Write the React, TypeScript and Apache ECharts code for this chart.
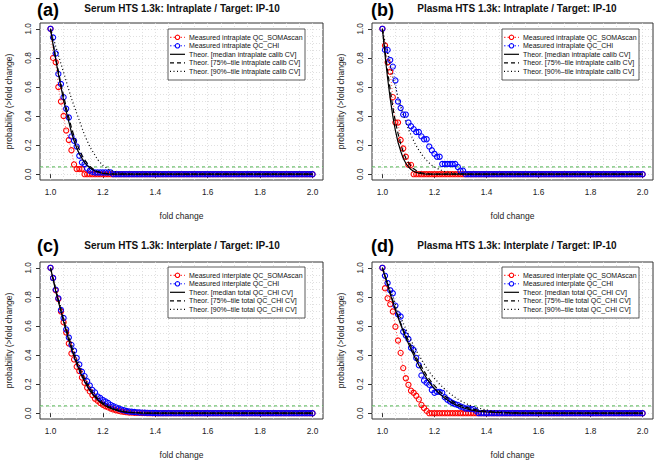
import React, { useEffect, useRef } from "react";
import * as echarts from "echarts";

// ---------- data ----------
const FOLD_CHANGE = Array.from({ length: 101 }, (_, i) => Math.round(100 + i) / 100);
const X_TICKS = [1.0, 1.2, 1.4, 1.6, 1.8, 2.0];
const Y_TICKS = [0, 0.2, 0.4, 0.6, 0.8, 1.0];
const GRID_X = [1.0, 1.05, 1.1, 1.15, 1.2, 1.25, 1.3, 1.35, 1.4, 1.45, 1.5, 1.55, 1.6, 1.65, 1.7, 1.75, 1.8, 1.85, 1.9, 1.95, 2.0];
const GRID_Y = [0, 0.05, 0.1, 0.15, 0.2, 0.25, 0.3, 0.35, 0.4, 0.45, 0.5, 0.55, 0.6, 0.65, 0.7, 0.75, 0.8, 0.85, 0.9, 0.95, 1.0];
const THRESHOLD = 0.05;
const X_RANGE = [0.96, 2.04];

const TITLES = [
  "Serum HTS 1.3k: Intraplate / Target: IP-10",
  "Plasma HTS 1.3k: Intraplate / Target: IP-10",
  "Serum HTS 1.3k: Interplate / Target: IP-10",
  "Plasma HTS 1.3k: Interplate / Target: IP-10",
];
const TAGS = ["(a)", "(b)", "(c)", "(d)"];
const LEGEND_INTRA = [
  "Measured intraplate QC_SOMAscan",
  "Measured intraplate QC_CHI",
  "Theor. [median intraplate calib CV]",
  "Theor. [75%\u2013tile intraplate calib CV]",
  "Theor. [90%\u2013tile intraplate calib CV]",
];
const LEGEND_INTER = [
  "Measured interplate QC_SOMAscan",
  "Measured interplate QC_CHI",
  "Theor. [median total QC_CHI CV]",
  "Theor. [75%\u2013tile total QC_CHI CV]",
  "Theor. [90%\u2013tile total QC_CHI CV]",
];

// measured values (fold change 1.00, 1.01, ...; remaining values are 0)
const A_SOMA = [1.0, 0.8, 0.77, 0.6, 0.5, 0.4, 0.3, 0.235, 0.165, 0.067, 0.035, 0.035, 0.035];
const A_CHI = [1.0, 0.94, 0.83, 0.69, 0.62, 0.53, 0.45, 0.39, 0.26, 0.23, 0.19, 0.127, 0.08, 0.07, 0.04, 0.023, 0.016, 0.012, 0.012, 0.012, 0.012, 0.012, 0.012, 0.012];
const B_SOMA = [1.0, 0.885, 0.77, 0.705, 0.53, 0.355, 0.355, 0.235, 0.177, 0.12, 0.064, 0.064];
const B_CHI = [1.0, 0.855, 0.855, 0.785, 0.74, 0.645, 0.5, 0.455, 0.41, 0.41, 0.355, 0.33, 0.31, 0.29, 0.29, 0.26, 0.24, 0.24, 0.19, 0.165, 0.14, 0.12, 0.12, 0.07, 0.07, 0.07, 0.07, 0.07, 0.07, 0.05, 0.024, 0.024];
const C_SOMA = [1.0, 0.93, 0.845, 0.785, 0.7, 0.625, 0.555, 0.48, 0.41, 0.37, 0.32, 0.29, 0.245, 0.21, 0.175, 0.15, 0.125, 0.1, 0.085, 0.07, 0.058, 0.048, 0.04, 0.032, 0.026, 0.02, 0.016, 0.012, 0.009, 0.007, 0.005, 0.004, 0.003, 0.0025, 0.002, 0.0015, 0.001];
const C_CHI = [1.0, 0.93, 0.85, 0.79, 0.71, 0.655, 0.575, 0.52, 0.47, 0.43, 0.38, 0.335, 0.285, 0.255, 0.22, 0.19, 0.16, 0.143, 0.115, 0.105, 0.09, 0.08, 0.07, 0.057, 0.048, 0.04, 0.032, 0.025, 0.02, 0.015, 0.012, 0.01, 0.008, 0.006, 0.005, 0.004, 0.003, 0.0025, 0.002, 0.0015, 0.001];
const D_SOMA = [1.0, 0.86, 0.79, 0.75, 0.7, 0.595, 0.5, 0.415, 0.31, 0.24, 0.195, 0.155, 0.14, 0.12, 0.095, 0.057, 0.035, 0.016];
const D_CHI = [1.0, 0.945, 0.895, 0.845, 0.825, 0.74, 0.68, 0.665, 0.56, 0.535, 0.51, 0.45, 0.435, 0.38, 0.33, 0.26, 0.225, 0.21, 0.195, 0.16, 0.14, 0.147, 0.147, 0.14, 0.11, 0.092, 0.08, 0.07, 0.062, 0.057, 0.046, 0.04, 0.032, 0.032, 0.028, 0.028, 0.016];

// theoretical curves
const THEORY_X = [1.0, 1.01, 1.02, 1.03, 1.04, 1.05, 1.06, 1.07, 1.08, 1.09, 1.1, 1.11, 1.12, 1.13, 1.14, 1.15, 1.16, 1.17, 1.18, 1.19, 1.2, 1.22, 1.24, 1.26, 1.28, 1.3, 1.32, 1.34, 1.36, 1.38, 1.4, 1.45, 1.5, 1.55, 1.6, 2.0];
const A_MEDIAN = [1, 0.89, 0.79, 0.69, 0.6, 0.51, 0.43, 0.36, 0.29, 0.23, 0.18, 0.14, 0.11, 0.08, 0.06, 0.045, 0.032, 0.022, 0.015, 0.01, 0.006, 0.002, 0.001, 0, 0, 0, 0, 0, 0, 0, 0, 0, 0, 0, 0, 0];
const A_P75 = [1, 0.9, 0.8, 0.71, 0.62, 0.54, 0.46, 0.39, 0.32, 0.26, 0.21, 0.17, 0.13, 0.1, 0.075, 0.055, 0.04, 0.028, 0.019, 0.013, 0.008, 0.003, 0.0015, 0.0005, 0, 0, 0, 0, 0, 0, 0, 0, 0, 0, 0, 0];
const A_P90 = [1, 0.94, 0.88, 0.82, 0.76, 0.7, 0.64, 0.58, 0.52, 0.47, 0.42, 0.37, 0.32, 0.27, 0.23, 0.19, 0.16, 0.13, 0.1, 0.08, 0.06, 0.035, 0.019, 0.01, 0.005, 0.002, 0.001, 0, 0, 0, 0, 0, 0, 0, 0, 0];
const B_MEDIAN = [1, 0.82, 0.66, 0.52, 0.4, 0.3, 0.22, 0.16, 0.11, 0.075, 0.05, 0.032, 0.02, 0.012, 0.007, 0.004, 0.002, 0.001, 0.0005, 0, 0, 0, 0, 0, 0, 0, 0, 0, 0, 0, 0, 0, 0, 0, 0, 0];
const B_P75 = [1, 0.85, 0.71, 0.58, 0.46, 0.36, 0.28, 0.21, 0.155, 0.11, 0.08, 0.055, 0.037, 0.025, 0.016, 0.01, 0.006, 0.004, 0.002, 0.001, 0.0005, 0, 0, 0, 0, 0, 0, 0, 0, 0, 0, 0, 0, 0, 0, 0];
const B_P90 = [1, 0.91, 0.83, 0.75, 0.67, 0.6, 0.53, 0.47, 0.41, 0.36, 0.31, 0.27, 0.23, 0.195, 0.165, 0.14, 0.115, 0.095, 0.077, 0.062, 0.05, 0.031, 0.018, 0.011, 0.006, 0.003, 0.0015, 0.0005, 0, 0, 0, 0, 0, 0, 0, 0];
const C_MEDIAN = [1, 0.92, 0.84, 0.77, 0.7, 0.63, 0.565, 0.5, 0.445, 0.39, 0.34, 0.295, 0.255, 0.22, 0.185, 0.157, 0.132, 0.11, 0.091, 0.075, 0.061, 0.04, 0.026, 0.016, 0.009, 0.005, 0.003, 0.0015, 0.001, 0.0005, 0, 0, 0, 0, 0, 0];
const C_P75 = [1, 0.925, 0.85, 0.78, 0.71, 0.645, 0.58, 0.52, 0.46, 0.405, 0.355, 0.31, 0.27, 0.233, 0.2, 0.17, 0.143, 0.12, 0.1, 0.083, 0.068, 0.045, 0.03, 0.019, 0.011, 0.006, 0.0035, 0.002, 0.001, 0.0005, 0, 0, 0, 0, 0, 0];
const C_P90 = [1, 0.93, 0.86, 0.79, 0.725, 0.66, 0.595, 0.535, 0.48, 0.425, 0.375, 0.33, 0.29, 0.25, 0.215, 0.185, 0.157, 0.133, 0.112, 0.094, 0.078, 0.053, 0.035, 0.023, 0.014, 0.008, 0.005, 0.003, 0.0015, 0.001, 0.0005, 0, 0, 0, 0, 0];
const D_MEDIAN = [1, 0.94, 0.88, 0.82, 0.765, 0.71, 0.66, 0.61, 0.565, 0.52, 0.48, 0.44, 0.4, 0.365, 0.33, 0.3, 0.27, 0.24, 0.215, 0.19, 0.17, 0.133, 0.103, 0.078, 0.059, 0.044, 0.032, 0.023, 0.016, 0.011, 0.008, 0.003, 0.001, 0, 0, 0];
const D_P75 = [1, 0.945, 0.89, 0.83, 0.775, 0.72, 0.67, 0.62, 0.575, 0.535, 0.5, 0.46, 0.42, 0.385, 0.35, 0.32, 0.29, 0.26, 0.235, 0.21, 0.19, 0.15, 0.118, 0.092, 0.071, 0.055, 0.042, 0.032, 0.024, 0.017, 0.012, 0.005, 0.002, 0.001, 0, 0];
const D_P90 = [1, 0.95, 0.9, 0.85, 0.8, 0.75, 0.7, 0.66, 0.62, 0.58, 0.54, 0.5, 0.465, 0.43, 0.4, 0.37, 0.34, 0.31, 0.285, 0.26, 0.24, 0.2, 0.165, 0.135, 0.108, 0.085, 0.067, 0.052, 0.04, 0.03, 0.022, 0.01, 0.004, 0.001, 0, 0];

const PANELS = [
  { soma: A_SOMA, chi: A_CHI, med: A_MEDIAN, p75: A_P75, p90: A_P90, legend: LEGEND_INTRA },
  { soma: B_SOMA, chi: B_CHI, med: B_MEDIAN, p75: B_P75, p90: B_P90, legend: LEGEND_INTRA },
  { soma: C_SOMA, chi: C_CHI, med: C_MEDIAN, p75: C_P75, p90: C_P90, legend: LEGEND_INTER },
  { soma: D_SOMA, chi: D_CHI, med: D_MEDIAN, p75: D_P75, p90: D_P90, legend: LEGEND_INTER },
];

// ---------- layout ----------
const LAYOUT = [
  { left: 40, top: 23, width: 283, titleX: 182, titleY: 8, tagX: 37, tagY: 9.5, legX: 168, legY: 29 },
  { left: 372, top: 23, width: 281, titleX: 517, titleY: 8, tagX: 371, tagY: 9.5, legX: 502, legY: 29 },
  { left: 40, top: 262, width: 283, titleX: 182, titleY: 245, tagX: 37, tagY: 246, legX: 168, legY: 267 },
  { left: 372, top: 262, width: 281, titleX: 517, titleY: 245, tagX: 371, tagY: 246, legX: 502, legY: 267 },
];
const PLOT_H = 157;
const FONT = "'Liberation Sans', Arial, Helvetica, sans-serif";
const RED = "#ff0000";
const BLUE = "#0000ff";
const GREEN = "#4fb34f";
const AX = "#333333";

function padZeros(vals: number[]) {
  return FOLD_CHANGE.map((x, i) => [x, i < vals.length ? vals[i] : 0]);
}

function buildOption() {
  const grid: any[] = [];
  const xAxis: any[] = [];
  const yAxis: any[] = [];
  const series: any[] = [];
  const graphic: any[] = [];

  LAYOUT.forEach((l) => {
    grid.push({
      left: l.left, top: l.top, width: l.width, height: PLOT_H,
      show: true, borderColor: AX, borderWidth: 1, backgroundColor: "transparent",
      containLabel: false, outerBoundsMode: "none",
    });
  });
  // main axes 0..3
  LAYOUT.forEach((l, i) => {
    xAxis.push({
      type: "value", gridIndex: i, min: X_RANGE[0], max: X_RANGE[1], position: "bottom",
      axisLine: { show: false },
      axisTick: { show: true, length: 4, lineStyle: { color: AX }, customValues: X_TICKS },
      axisLabel: { customValues: X_TICKS, formatter: (v: number) => v.toFixed(1), fontSize: 8.3, color: "#222", margin: 8, fontFamily: FONT },
      splitLine: { show: false },
      name: "fold change", nameLocation: "middle", nameGap: 31,
      nameTextStyle: { fontSize: 8.5, color: "#222", fontFamily: FONT },
    });
    yAxis.push({
      type: "value", gridIndex: i, min: -0.04, max: 1.04, position: "left",
      axisLine: { show: false },
      axisTick: { show: true, length: 4, lineStyle: { color: AX }, customValues: Y_TICKS },
      axisLabel: { customValues: Y_TICKS, formatter: (v: number) => v.toFixed(1), fontSize: 8.3, color: "#222", margin: 8, rotate: 90, fontFamily: FONT },
      splitLine: { show: false },
      name: "probability (>fold change)", nameLocation: "middle", nameGap: 27, nameRotate: 90,
      nameTextStyle: { fontSize: 8.5, color: "#222", fontFamily: FONT },
    });
  });
  // grid-line axes 4..7
  LAYOUT.forEach((l, i) => {
    xAxis.push({
      type: "value", gridIndex: i, min: X_RANGE[0], max: X_RANGE[1], position: "top",
      axisLine: { show: false },
      axisTick: { show: false, customValues: GRID_X },
      axisLabel: { show: false, customValues: GRID_X },
      splitLine: { show: true, lineStyle: { color: "#d8d8d8", type: [1, 2], width: 0.8 } },
    });
    yAxis.push({
      type: "value", gridIndex: i, min: -0.04, max: 1.04, position: "right",
      axisLine: { show: false },
      axisTick: { show: false, customValues: GRID_Y },
      axisLabel: { show: false, customValues: GRID_Y },
      splitLine: { show: true, lineStyle: { color: "#d8d8d8", type: [1, 2], width: 0.8 } },
    });
  });

  PANELS.forEach((p, i) => {
    const base = { type: "line", xAxisIndex: i, yAxisIndex: i, emphasis: { disabled: true }, silent: true, animation: false };
    // threshold line
    series.push({
      ...base, name: "threshold" + i, z: 3,
      data: [[X_RANGE[0], THRESHOLD], [X_RANGE[1], THRESHOLD]],
      symbol: "none", showSymbol: false,
      lineStyle: { color: GREEN, width: 1, type: [3, 3] },
    });
    series.push({
      ...base, name: p.legend[0] + i, data: padZeros(p.soma), z: 4,
      symbol: "circle", symbolSize: 5.2, showSymbol: true, showAllSymbol: true,
      itemStyle: { color: "transparent", borderColor: RED, borderWidth: 1.1 },
      lineStyle: { color: RED, width: 0.8, type: [1, 2], opacity: 0.8 },
    });
    series.push({
      ...base, name: p.legend[1] + i, data: padZeros(p.chi), z: 5,
      symbol: "circle", symbolSize: 5.2, showSymbol: true, showAllSymbol: true,
      itemStyle: { color: "transparent", borderColor: BLUE, borderWidth: 1.1 },
      lineStyle: { color: BLUE, width: 0.8, type: [1, 2], opacity: 0.8 },
    });
    const theo = [
      { vals: p.med, type: "solid" as any },
      { vals: p.p75, type: [5, 3] },
      { vals: p.p90, type: [1, 2.5] },
    ];
    theo.forEach((t, k) => {
      series.push({
        ...base, name: p.legend[2 + k] + i, z: 6,
        data: THEORY_X.map((x, j) => [x, t.vals[j]]),
        symbol: "none", showSymbol: false,
        lineStyle: { color: "#000", width: 1.2, type: t.type },
      });
    });
  });

  LAYOUT.forEach((l, i) => {
    graphic.push({
      type: "text", x: l.titleX, y: l.titleY, z: 100,
      style: { text: TITLES[i], font: `bold 10px ${FONT}`, fill: "#111", align: "center", verticalAlign: "middle" },
    });
    graphic.push({
      type: "text", x: l.tagX, y: l.tagY, z: 100,
      style: { text: TAGS[i], font: `bold 18px ${FONT}`, fill: "#000", align: "left", verticalAlign: "middle" },
    });
    // legend
    const lx = l.legX, ly = l.legY;
    graphic.push({
      type: "rect", z: 100, shape: { x: lx, y: ly, width: 137, height: 51 },
      style: { fill: "#fff", stroke: AX, lineWidth: 0.8 },
    });
    const legendStyles = [
      { color: RED, dash: [1.5, 2], circle: true, w: 0.9 },
      { color: BLUE, dash: [1.5, 2], circle: true, w: 0.9 },
      { color: "#000", dash: null, circle: false, w: 1.2 },
      { color: "#000", dash: [4, 3], circle: false, w: 1.2 },
      { color: "#000", dash: [1, 2.5], circle: false, w: 1.2 },
    ];
    PANELS[i].legend.forEach((txt, k) => {
      const cy = ly + 8.3 + k * 8.5;
      const st = legendStyles[k];
      graphic.push({
        type: "line", z: 101, shape: { x1: lx + 2, y1: cy, x2: lx + 17, y2: cy },
        style: { stroke: st.color, lineWidth: st.w, lineDash: st.dash || undefined },
      });
      if (st.circle) {
        graphic.push({
          type: "circle", z: 102, shape: { cx: lx + 9.5, cy, r: 2.2 },
          style: { fill: "#fff", stroke: st.color, lineWidth: 1.1 },
        });
      }
      graphic.push({
        type: "text", z: 101, x: lx + 21, y: cy,
        style: { text: txt, font: `7px ${FONT}`, fill: "#111", align: "left", verticalAlign: "middle" },
      });
    });
  });

  return {
    animation: false,
    backgroundColor: "#ffffff",
    textStyle: { fontFamily: FONT },
    grid, xAxis, yAxis, series, graphic,
  };
}

export default function App() {
  const ref = useRef<HTMLDivElement>(null);
  useEffect(() => {
    document.body.style.margin = "0";
    if (!ref.current) return;
    const chart = echarts.init(ref.current, undefined, { renderer: "svg" });
    chart.setOption(buildOption() as any);
    return () => chart.dispose();
  }, []);
  return <div ref={ref} style={{ width: 660, height: 460 }} />;
}
